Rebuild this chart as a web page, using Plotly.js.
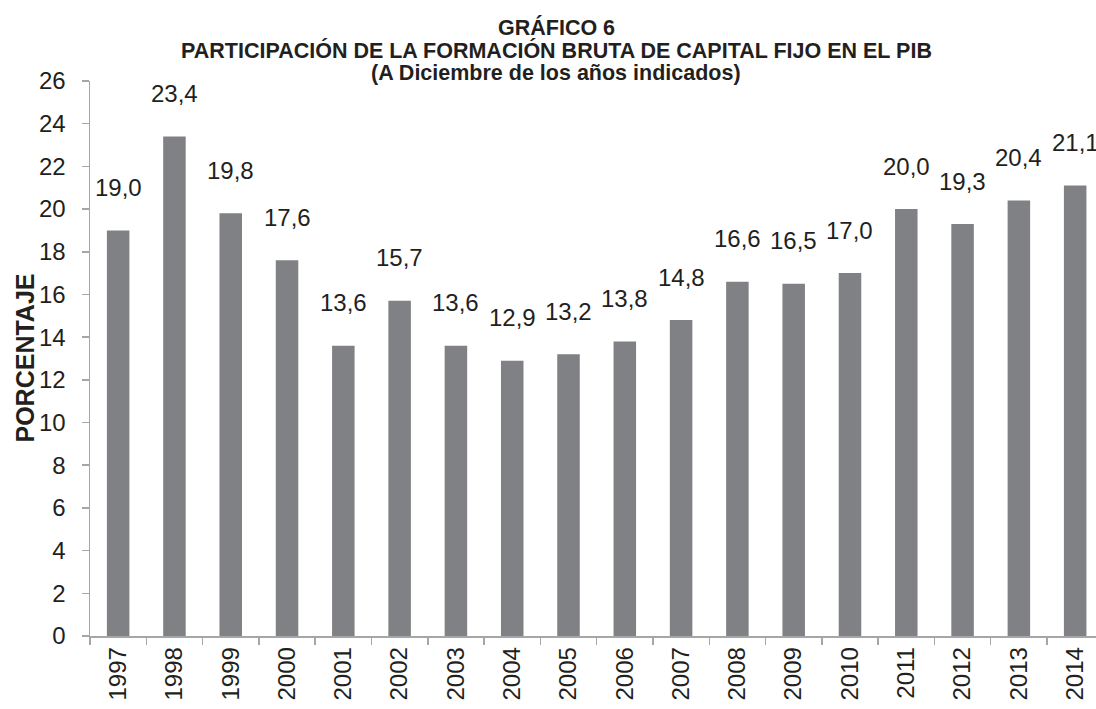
<!DOCTYPE html>
<html>
<head>
<meta charset="utf-8">
<script src="https://cdn.plot.ly/plotly-3.0.1.min.js"></script>
<style>html,body{margin:0;padding:0;background:#fff;}#chart{width:1096px;height:709px;}</style>
</head>
<body>
<div id="chart"></div>
<script>
var years = ["1997","1998","1999","2000","2001","2002","2003","2004","2005","2006","2007","2008","2009","2010","2011","2012","2013","2014"];
var values = [19.0, 23.4, 19.8, 17.6, 13.6, 15.7, 13.6, 12.9, 13.2, 13.8, 14.8, 16.6, 16.5, 17.0, 20.0, 19.3, 20.4, 21.1];
var yTicks = [0,2,4,6,8,10,12,14,16,18,20,22,24,26];
var titleLines = ["GRÁFICO 6", "PARTICIPACIÓN DE LA FORMACIÓN BRUTA DE CAPITAL FIJO EN EL PIB", "(A Diciembre de los años indicados)"];
var yTitle = "PORCENTAJE";

function fmt(v){ return v.toFixed(1).replace('.', ','); }

var FONT = "Liberation Sans, Arial, sans-serif";
var TXT = "#231f20";
var axisColor = "#a6a6a6";

var trace = {
  type: "bar",
  x: years,
  y: values,
  width: 0.4,
  marker: {color: "#808184", line: {width: 0}},
  hoverinfo: "skip"
};

// value labels (placed via the category index on the x axis)
var annotations = years.map(function(yr, i){
  return {
    x: i, y: values[i], xref: "x", yref: "y",
    text: fmt(values[i]), showarrow: false,
    yshift: 43, xanchor: "center", yanchor: "middle",
    font: {family: FONT, size: 24, color: TXT}
  };
});

// title lines
var titleCenters = [27, 50, 73];
titleLines.forEach(function(t, i){
  annotations.push({
    xref: "paper", yref: "paper",
    x: (556 - 90) / 1006, y: 1, yshift: 81 - titleCenters[i],
    xanchor: "center", yanchor: "middle",
    text: "<b>" + t + "</b>", showarrow: false,
    font: {family: FONT, size: 21.5, color: TXT}
  });
});

// y axis title
annotations.push({
  xref: "paper", yref: "paper", x: 0, y: 0.5, xshift: -66,
  xanchor: "center", yanchor: "middle", textangle: -90,
  text: "<b>" + yTitle + "</b>", showarrow: false,
  font: {family: FONT, size: 25, color: TXT}
});

var layout = {
  width: 1096, height: 709,
  margin: {l: 90, r: 0, t: 81, b: 73, pad: 0},
  paper_bgcolor: "#ffffff", plot_bgcolor: "#ffffff",
  showlegend: false,
  xaxis: {
    type: "category",
    range: [-0.5, 17.37],
    showline: true, linecolor: axisColor, linewidth: 1.5,
    ticks: "outside", tickson: "boundaries", ticklen: 7, tickcolor: axisColor, tickwidth: 1.5,
    tickangle: -90,
    tickfont: {family: FONT, size: 24, color: TXT},
    showgrid: false, zeroline: false, fixedrange: true
  },
  yaxis: {
    range: [0, 26],
    tickvals: yTicks,
    ticktext: yTicks.map(String),
    showline: true, linecolor: axisColor, linewidth: 1.5,
    ticks: "outside", ticklen: 7, tickcolor: axisColor, tickwidth: 1.5,
    ticklabelstandoff: 11,
    tickfont: {family: FONT, size: 24, color: TXT},
    showgrid: false, zeroline: false, fixedrange: true
  },
  annotations: annotations
};

Plotly.newPlot("chart", [trace], layout, {displayModeBar: false, staticPlot: true});
</script>
</body>
</html>
